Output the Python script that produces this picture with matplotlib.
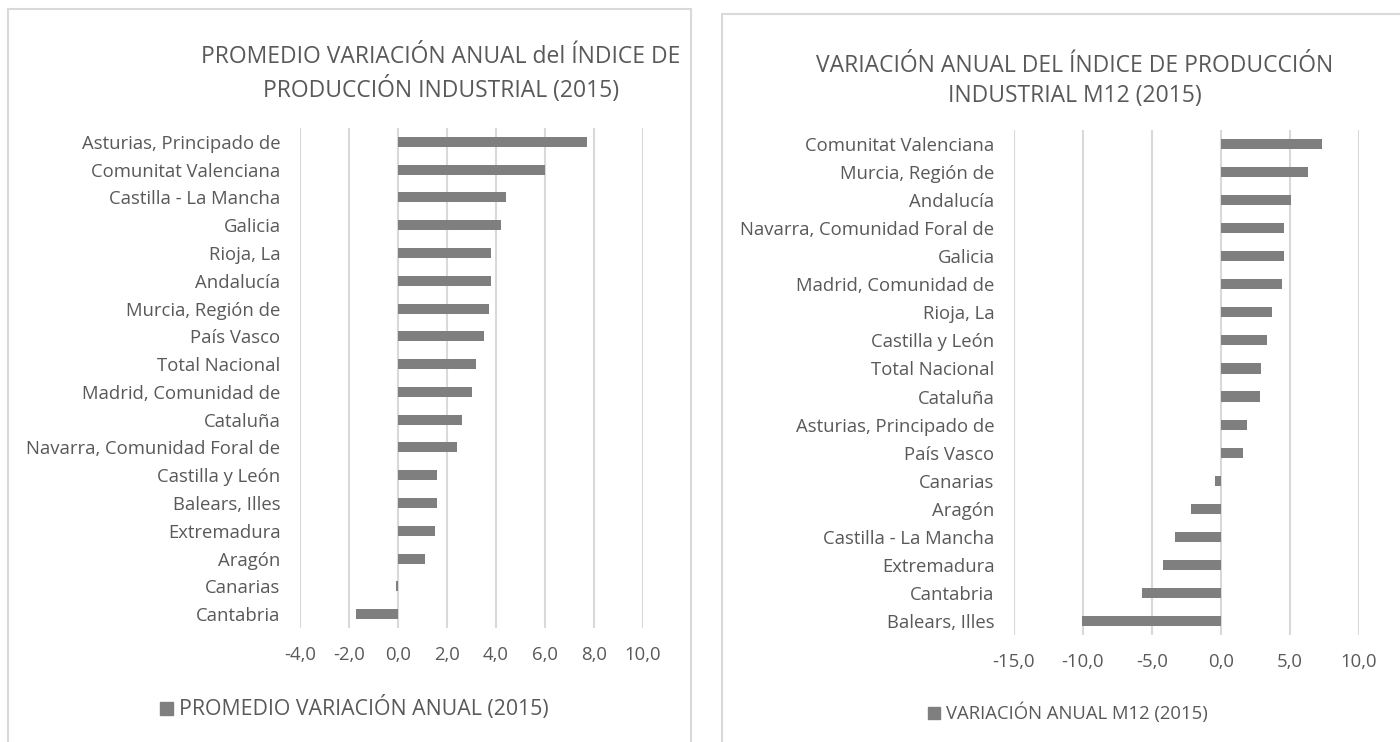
import numpy as np
import matplotlib.pyplot as plt
from matplotlib.patches import Rectangle

plt.rcParams['font.family'] = ['Open Sans', 'DejaVu Sans']

# datos (de arriba a abajo)
reg_prom = ['Asturias, Principado de', 'Comunitat Valenciana', 'Castilla - La Mancha',
            'Galicia', 'Rioja, La', 'Andalucía', 'Murcia, Región de', 'País Vasco',
            'Total Nacional', 'Madrid, Comunidad de', 'Cataluña',
            'Navarra, Comunidad Foral de', 'Castilla y León', 'Balears, Illes',
            'Extremadura', 'Aragón', 'Canarias', 'Cantabria']
val_prom = [7.7, 6.0, 4.4, 4.2, 3.8, 3.8, 3.7, 3.5, 3.2, 3.0, 2.6, 2.4,
            1.6, 1.6, 1.5, 1.1, -0.1, -1.7]

reg_m12 = ['Comunitat Valenciana', 'Murcia, Región de', 'Andalucía',
           'Navarra, Comunidad Foral de', 'Galicia', 'Madrid, Comunidad de',
           'Rioja, La', 'Castilla y León', 'Total Nacional', 'Cataluña',
           'Asturias, Principado de', 'País Vasco', 'Canarias', 'Aragón',
           'Castilla - La Mancha', 'Extremadura', 'Cantabria', 'Balears, Illes']
val_m12 = [7.3, 6.3, 5.1, 4.6, 4.6, 4.4, 3.7, 3.3, 2.9, 2.8, 1.9, 1.6,
           -0.4, -2.2, -3.3, -4.2, -5.7, -10.1]

bar_col = '#7f7f7f'
txt_col = '#595959'
grid_col = '#d9d9d9'

W, H = 1400, 742
fig = plt.figure(figsize=(W / 100, H / 100), dpi=100)

def fx(px):
    return px / W

def fy(py):
    return 1 - py / H

# marcos de los gráficos
fig.patches.append(Rectangle((fx(8), fy(760)), fx(683), fy(9) - fy(760),
                             transform=fig.transFigure, fill=False,
                             edgecolor=grid_col, lw=1.5))
fig.patches.append(Rectangle((fx(722), fy(760)), fx(700), fy(14) - fy(760),
                             transform=fig.transFigure, fill=False,
                             edgecolor=grid_col, lw=1.5))


def panel(rect, labels, vals, xlim, xticks, title, tcx, tcy, legend, lx, ly, lsize, sq):
    ax = fig.add_axes(rect)
    y = np.arange(len(labels))[::-1]
    ax.barh(y, vals, height=0.36, color=bar_col, zorder=3)
    ax.set_ylim(-0.5, len(labels) - 0.5)
    ax.set_xlim(*xlim)
    ax.set_xticks(xticks)
    ax.set_xticklabels([f'{t:.1f}'.replace('.', ',') for t in xticks])
    ax.set_yticks(y)
    ax.set_yticklabels(labels)
    ax.tick_params(axis='both', length=0, colors=txt_col, labelsize=13.3)
    ax.tick_params(axis='y', pad=14)
    ax.tick_params(axis='x', pad=13)
    ax.grid(axis='x', color=grid_col, lw=1.5, zorder=0)
    for s in ax.spines.values():
        s.set_visible(False)
    fig.text(tcx, tcy, title, ha='center', va='center', color=txt_col,
             fontsize=16.5, linespacing=1.3)
    fig.patches.append(Rectangle((fx(lx), fy(ly + sq / 2)), fx(sq), sq / H,
                                 transform=fig.transFigure, color=bar_col))
    fig.text(fx(lx + sq + 6), fy(ly), legend, ha='left', va='center', color=txt_col,
             fontsize=lsize)
    return ax


panel([fx(300), fy(628), fx(343), fy(128) - fy(628)], reg_prom, val_prom,
      (-4, 10), np.arange(-4, 11, 2),
      'PROMEDIO VARIACIÓN ANUAL del ÍNDICE DE\nPRODUCCIÓN INDUSTRIAL (2015)',
      fx(441), fy(74), 'PROMEDIO VARIACIÓN ANUAL (2015)', 160, 708, 15.3, 13)

panel([fx(1014), fy(635), fx(345), fy(130) - fy(635)], reg_m12, val_m12,
      (-15, 10), np.arange(-15, 11, 5),
      'VARIACIÓN ANUAL DEL ÍNDICE DE PRODUCCIÓN\nINDUSTRIAL M12 (2015)',
      fx(1075), fy(81), 'VARIACIÓN ANUAL M12 (2015)', 928, 713, 13.3, 12)

fig.savefig('out.png', dpi=100)
